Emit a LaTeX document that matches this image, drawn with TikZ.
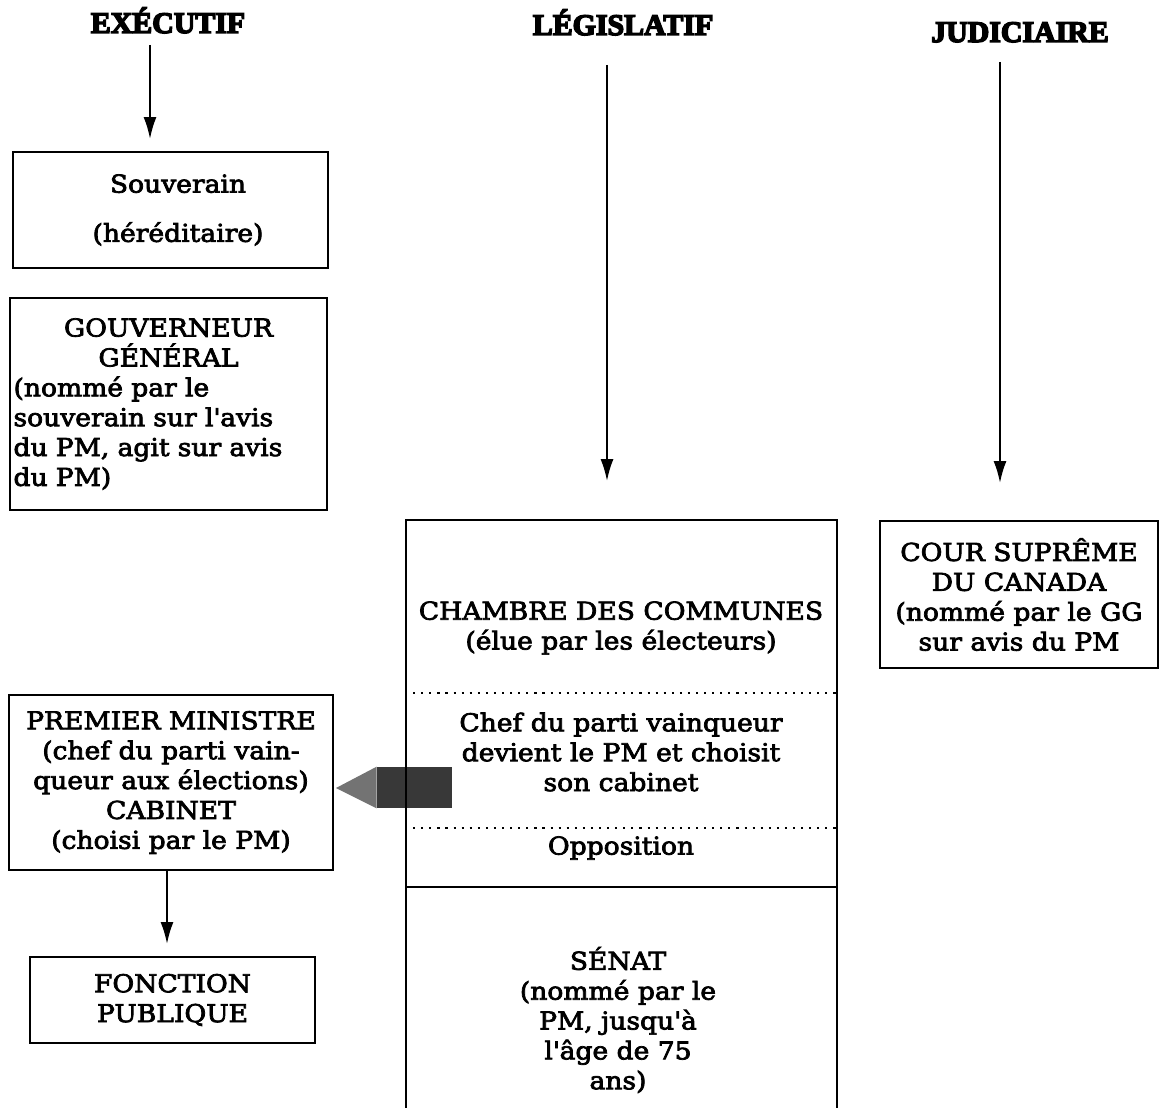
\documentclass[tikz,border=0pt]{standalone}
\usepackage{fontspec}
\setmainfont{DejaVu Serif}[FakeStretch=1.08, FakeBold=3]
\newfontfamily\headfont{Liberation Serif}[UprightFont=* Bold, FakeBold=5]
\usetikzlibrary{arrows.meta}
\newcommand\apos{\textquotesingle}
\begin{document}
\begin{tikzpicture}[x=0.02cm,y=-0.02cm,
  box/.style={draw,line width=1.1pt,inner sep=0pt,align=center,font=\fontsize{14}{17}\selectfont},
  txt/.style={inner sep=0pt,align=center,font=\fontsize{14}{17}\selectfont},
  head/.style={inner sep=0pt,anchor=base,font=\fontsize{17}{19}\headfont},
  arr/.style={line width=1.2pt,-{Latex[length=0.44cm,width=0.26cm]}},
  sep/.style={line width=1.2pt,dash pattern=on 1.2pt off 3.4pt}
]
\useasboundingbox (0,0) rectangle (1159,1108);

% headings
\node[head] (hexe) at (168,33) {EXÉCUTIF};
\node[head] (hleg) at (623,35) {LÉGISLATIF};
\node[head] (hjud) at (1020,42) {JUDICIAIRE};

% executive column
\node[box,minimum width=6.3cm,minimum height=2.32cm] (souv) at (170.5,210)
  {\hspace*{0.3cm}Souverain\\[11pt]\hspace*{0.3cm}(héréditaire)};
\node[box,minimum width=6.34cm,minimum height=4.24cm,text width=6.2cm,align=left] (gg) at (168.5,404)
  {\makebox[\linewidth]{GOUVERNEUR}\\
   \makebox[\linewidth]{GÉNÉRAL}\\
   (nommé par le\\
   souverain sur l\apos avis\\
   du PM, agit sur avis\\
   du PM)};
\node[box,minimum width=6.48cm,minimum height=3.5cm] (pm) at (171,782.5)
  {PREMIER MINISTRE\\(chef du parti vain-\\queur aux élections)\\CABINET\\(choisi par le PM)};
\node[box,minimum width=5.7cm,minimum height=1.72cm] (fonc) at (172.5,1000)
  {FONCTION\\PUBLIQUE};

% block arrow from the House to the PM
\node[fill=black!78,inner sep=0pt,minimum width=1.5cm,minimum height=0.82cm] (bloc) at (414.5,787.5) {};
\fill[black!55] (bloc.north west) -- (336,788) -- (bloc.south west) -- cycle;

% legislative column
\node[box,minimum width=8.62cm,minimum height=12cm] (parl) at (621.5,820) {};
\node[txt] (cdc) at (621,628) {CHAMBRE DES COMMUNES\\(élue par les électeurs)};
\draw[sep] (parl.west |- 0,693) -- (parl.east |- 0,693);
\node[txt] (chef) at (621,752) {Chef du parti vainqueur\\devient le PM et choisit\\son cabinet};
\draw[sep] (parl.west |- 0,828) -- (parl.east |- 0,828);
\node[txt] (opp) at (621,848) {Opposition};
\draw[line width=1.1pt] (parl.west |- 0,887) -- (parl.east |- 0,887);
\node[txt] (senat) at (618,1020) {SÉNAT\\(nommé par le\\PM, jusqu\apos à\\l\apos âge de 75\\ans)};

% judicial column
\node[box,minimum width=5.56cm,minimum height=2.94cm] (cour) at (1019,594.5)
  {COUR SUPRÊME\\DU CANADA\\(nommé par le GG\\sur avis du PM};

% arrows
\coordinate (e0) at (150,45);
\coordinate (l0) at (607,65);
\coordinate (j0) at (1000,62);
\draw[arr,shorten >=0.24cm] (e0) -- (e0 |- souv.north);
\draw[arr,shorten >=0.76cm] (l0) -- (l0 |- parl.north);
\draw[arr,shorten >=0.74cm] (j0) -- (j0 |- cour.north);
\draw[arr,shorten >=0.24cm] (pm.south -| 167,0) -- (fonc.north -| 167,0);
\end{tikzpicture}
\end{document}
